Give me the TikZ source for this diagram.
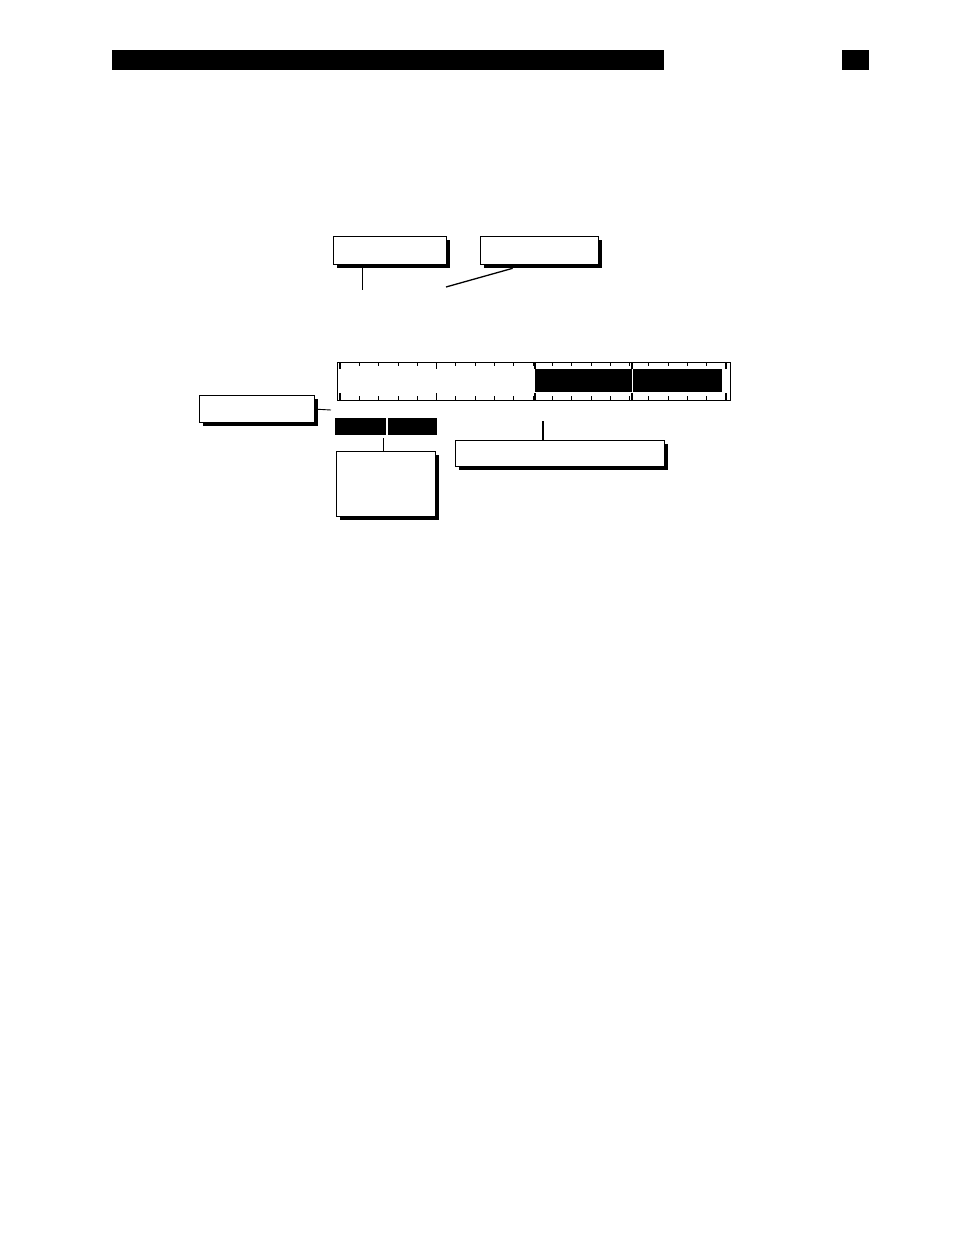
\documentclass[tikz,border=0pt]{standalone}
\begin{document}
\begin{tikzpicture}[x=1pt,y=-1pt,
 sbox/.style={draw=black,line width=1.3pt,fill=white,inner sep=0pt,anchor=north west},
 lead/.style={line width=0.9pt}]
\useasboundingbox (0,0) rectangle (954,1235);
\fill (112,50) rectangle (664,70);
\fill (842,50) rectangle (869,70);
% shadowed boxes
\newcommand{\shbox}[5]{%
 \fill (#2+4,#3+4) rectangle (#4+4,#5+4);
 \node[sbox,minimum width=#4-#2,minimum height=#5-#3] (#1) at (#2,#3) {};}
\shbox{a}{333}{236}{446}{264}
\shbox{b}{480}{236}{598}{264}
\shbox{l}{199}{395}{314}{422}
\shbox{t}{336}{451}{435}{516}
\shbox{w}{455}{440}{664}{466}
\coordinate (a1) at (362,290);
\draw[lead] (362,264) -- (a1);
\coordinate (b1) at (446,287);
\draw[line width=1.3pt] (b.south) ++(-27,3) -- (b1);
% ruler
\node[draw,line width=1pt,minimum width=393,minimum height=38,inner sep=0pt,anchor=north west] (r) at (337,362) {};
\fill (535,369) rectangle (722,392);
\foreach \i in {0,...,20}{
 \pgfmathsetmacro{\xx}{340+\i*19.3}
 \draw[line width=0.8pt] (\xx,362) -- (\xx,366);
 \draw[line width=0.8pt] (\xx,396) -- (\xx,400);}
\foreach \xx in {340,726}{\draw[line width=1.6pt] (\xx,362)--(\xx,369) (\xx,393)--(\xx,400);}
\foreach \xx in {436.5,535,632}{\draw[line width=1.2pt] (\xx,362)--(\xx,369) (\xx,393)--(\xx,400);}
\draw[white,line width=1pt] (632,369)--(632,392);
\coordinate (l1) at (331,410);
\draw[lead] (l.east) -- (l1);
\node[fill=black,minimum width=51,minimum height=17,inner sep=0pt,anchor=north west] (k1) at (335,418) {};
\node[fill=black,minimum width=49,minimum height=17,inner sep=0pt,anchor=north west] (k2) at (388,418) {};
\draw[lead] (383,438) -- (383,451);
\coordinate (w1) at (543,421);
\draw[line width=1.3pt] (w1) -- (543,440);
\end{tikzpicture}
\end{document}
